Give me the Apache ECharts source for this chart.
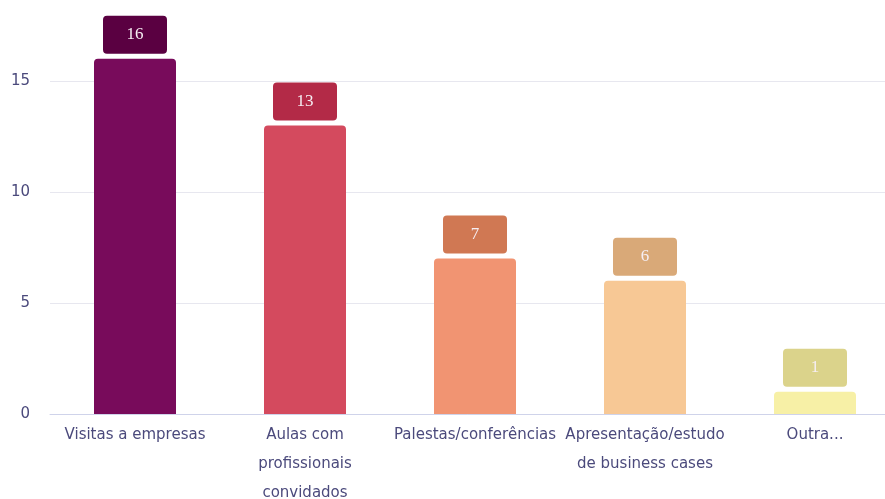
<!DOCTYPE html>
<html>
<head>
<meta charset="utf-8">
<script src="https://cdn.jsdelivr.net/npm/echarts@6/dist/echarts.min.js"></script>
<style>html,body{margin:0;padding:0;background:#fff}#c{width:885px;height:499px}</style>
</head>
<body>
<div id="c"></div>
<script>
const categories = ["Visitas a empresas", "Aulas com\nprofissionais\nconvidados", "Palestas/conferências", "Apresentação/estudo\nde business cases", "Outra..."];
const values = [16, 13, 7, 6, 1];
const barColors = ["#780b5b", "#d44a5e", "#f19472", "#f7c895", "#f7f0a6"];
const labelColors = ["#5a0041", "#b32a47", "#d07853", "#d9a978", "#dbd38b"];
const yTicks = [0, 5, 10, 15];

const chart = echarts.init(document.getElementById('c'));
chart.setOption({
  animation: false,
  grid: { left: 50, right: -15, top: 14.4, bottom: 85, containLabel: false, outerBoundsMode: 'none' },
  xAxis: {
    type: 'category',
    data: categories,
    axisLine: { show: true, lineStyle: { color: '#cfd3ea', width: 1 } },
    axisTick: { show: false },
    axisLabel: { interval: 0, color: '#4b4a7c', fontFamily: 'DejaVu Sans', fontSize: 15, lineHeight: 29, margin: 7 }
  },
  yAxis: {
    type: 'value',
    min: 0, max: 18, interval: 5,
    axisLine: { show: false },
    axisTick: { show: false },
    splitLine: { show: true, showMaxLine: false, lineStyle: { color: '#e7e7ef' } },
    axisLabel: {
      showMaxLabel: false, color: '#4b4a7c', fontFamily: 'DejaVu Sans', fontSize: 15, margin: 20,
      formatter: v => yTicks.includes(v) ? String(v) : ''
    }
  },
  series: [{
    type: 'bar',
    barWidth: 82,
    data: values.map((v, i) => ({
      value: v,
      itemStyle: { color: barColors[i], borderRadius: [4, 4, 0, 0] },
      label: { backgroundColor: labelColors[i] }
    })),
    label: {
      show: true, position: 'top', distance: 5,
      color: '#f6eef3', fontFamily: 'Liberation Serif', fontSize: 17,
      width: 64, lineHeight: 14, padding: [12, 0], align: 'center',
      borderRadius: 4
    }
  }]
});
</script>
</body>
</html>
